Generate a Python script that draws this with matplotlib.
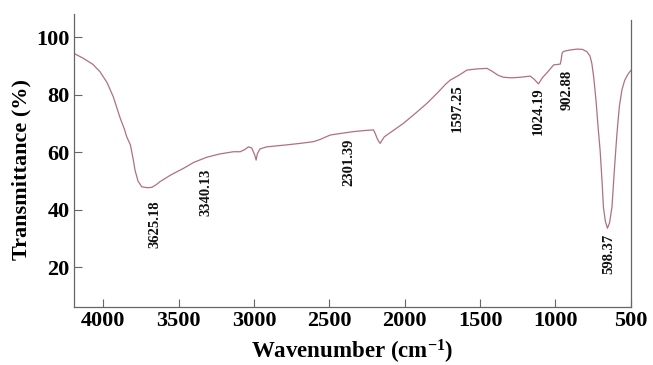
import matplotlib
matplotlib.use("Agg")
import matplotlib.pyplot as plt

# Spectrum
wavenumber = [4195, 4133, 4070, 4022, 3975, 3934, 3889, 3860, 3845, 3820, 3801, 3790,
              3770, 3745, 3710, 3679, 3650, 3624, 3550, 3469, 3400, 3313, 3230, 3137,
              3092, 3060, 3037, 3015, 2995, 2986, 2978, 2960, 2915, 2800, 2694, 2606,
              2560, 2495, 2420, 2340, 2260, 2207, 2196, 2180, 2163, 2150, 2135, 2070,
              2008, 1930, 1853, 1780, 1730, 1698, 1640, 1587, 1520, 1454, 1420, 1380,
              1344, 1290, 1233, 1167, 1140, 1112, 1085, 1050, 1011, 980, 967, 962,
              955, 948, 930, 900, 857, 820, 791, 770, 758, 745, 730, 715, 703, 690,
              681, 668, 654, 640, 624, 608, 591, 575, 558, 540, 525, 512, 500]
transmittance = [94.4, 92.7, 90.6, 88.0, 84.2, 79.3, 72.0, 68.0, 65.4, 62.5, 57.3, 53.8,
                 50.0, 48.0, 47.7, 47.8, 48.7, 49.8, 52.2, 54.4, 56.5, 58.3, 59.4, 60.2,
                 60.2, 61.0, 61.9, 61.5, 59.0, 57.3, 59.5, 61.2, 61.9, 62.5, 63.1, 63.7,
                 64.5, 66.0, 66.6, 67.2, 67.6, 67.8, 66.6, 64.5, 63.1, 64.2, 65.4, 67.8,
                 70.1, 73.5, 77.0, 80.8, 83.6, 85.1, 86.8, 88.6, 89.0, 89.2, 88.2, 86.8,
                 86.1, 85.9, 86.1, 86.5, 85.4, 83.8, 86.0, 88.0, 90.4, 90.6, 90.7, 92.0,
                 94.5, 95.0, 95.3, 95.6, 95.9, 95.8, 95.0, 93.5, 91.0, 86.0, 78.0, 68.0,
                 60.8, 50.0, 41.0, 36.0, 33.6, 35.5, 41.0, 54.0, 66.6, 76.0, 81.7, 85.0,
                 86.5, 87.6, 88.4]

# Peak labels
peak_labels = ["3625.18", "3340.13", "2301.39", "1597.25", "1024.19", "902.88", "598.37"]
label_x = [3658, 3318, 2373, 1653, 1112, 924, 647]
label_y = [35.1, 46.0, 56.5, 75.4, 74.2, 81.7, 24.6]

xticks = [4000, 3500, 3000, 2500, 2000, 1500, 1000, 500]
yticks = [20, 40, 60, 80, 100]

plt.rcParams["mathtext.fontset"] = "custom"
plt.rcParams["mathtext.rm"] = "Liberation Serif:bold"
plt.rcParams["mathtext.bf"] = "Liberation Serif:bold"
plt.rcParams["mathtext.default"] = "bf"

serif = ["Liberation Serif", "DejaVu Serif"]
line_color = "#b07080"
spine_color = "#666666"

fig = plt.figure(figsize=(6.53, 3.65), dpi=100)
ax = fig.add_axes([0.1133, 0.1589, 0.8525, 0.8027])

ax.plot(wavenumber, transmittance, color=line_color, lw=0.9)

ax.set_xlim(4195, 500)
ax.set_ylim(6.2, 108.1)
ax.set_xticks(xticks)
ax.set_yticks(yticks)
ax.set_xticklabels([str(t) for t in xticks], family=serif, fontsize=16, fontweight="bold")
ax.set_yticklabels([str(t) for t in yticks], family=serif, fontsize=16, fontweight="bold")
ax.tick_params(direction="in", length=6, width=0.8, color=spine_color, pad=3)

for s in ["left", "bottom", "right"]:
    ax.spines[s].set_color(spine_color)
    ax.spines[s].set_linewidth(0.9)
ax.spines["top"].set_visible(False)
ax.spines["right"].set_bounds(6.2, 106.0)

for txt, x, y in zip(peak_labels, label_x, label_y):
    ax.text(x, y, txt, rotation=90, ha="center", va="center",
            family=serif, fontsize=10.5, fontweight="bold", color="#111111")

ax.set_xlabel("Wavenumber (cm$^{-1}$)", family=serif, fontsize=16.5,
              fontweight="bold", labelpad=5)
ax.set_ylabel("Transmittance (%)", family=serif, fontsize=16, fontweight="bold")
ax.yaxis.set_label_coords(-0.076, 0.47)

fig.savefig("out.png", dpi=100)
